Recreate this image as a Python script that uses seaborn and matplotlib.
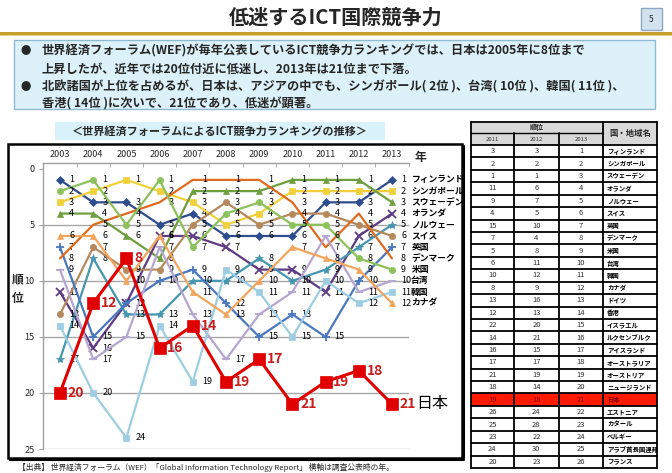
import matplotlib
matplotlib.use("Agg")
import matplotlib.pyplot as plt
from matplotlib.patches import Rectangle
import seaborn as sns
import pandas as pd
import numpy as np

sns.set_style("white")
plt.rcParams['font.family'] = ['Noto Sans CJK JP', 'DejaVu Sans']

# ---------------- data ----------------
years = [2003, 2004, 2005, 2006, 2007, 2008, 2009, 2010, 2011, 2012, 2013]
countries = ['フィンランド', 'シンガポール', 'スウェーデン', 'オランダ', 'ノルウェー', 'スイス',
             '英国', 'デンマーク', '米国', '台湾', '韓国', 'カナダ', '日本']
finland     = [1, 3, 3, 5, 4, 6, 6, 6, 3, 3, 1]
singapore   = [3, 2, 1, 2, 3, 5, 4, 2, 2, 2, 2]
sweden      = [4, 4, 6, 8, 2, 2, 2, 1, 1, 1, 3]
netherlands = [11, 16, 12, 6, 6, 7, 9, 9, 11, 6, 4]
norway      = [17, 8, 13, 13, 10, 10, 8, 10, 9, 7, 5]
switzerland = [13, 7, 9, 9, 5, 3, 5, 4, 4, 5, 6]
uk          = [7, 15, 12, 10, 9, 12, 15, 13, 15, 10, 7]
denmark     = [8, 5, 4, 3, 1, 1, 1, 3, 7, 4, 8]
usa         = [2, 1, 5, 1, 7, 4, 3, 5, 5, 8, 9]
taiwan      = [9, 17, 15, 7, 13, 17, 13, 11, 6, 11, 10]
korea       = [14, 20, 24, 14, 19, 9, 11, 15, 10, 12, 11]
canada      = [6, 6, 10, 6, 11, 13, 10, 7, 8, 9, 12]
japan       = [20, 12, 8, 16, 14, 19, 17, 21, 19, 18, 21]
series = [finland, singapore, sweden, netherlands, norway, switzerland,
          uk, denmark, usa, taiwan, korea, canada, japan]

tbl_names = ['フィンランド', 'シンガポール', 'スウェーデン', 'オランダ', 'ノルウェー', 'スイス', '英国',
             'デンマーク', '米国', '台湾', '韓国', 'カナダ', 'ドイツ', '香港', 'イスラエル',
             'ルクセンブルク', 'アイスランド', 'オーストラリア', 'オーストリア', 'ニュージランド',
             '日本', 'エストニア', 'カタール', 'ベルギー', 'アラブ首長国連邦', 'フランス']
tbl_2011 = [3, 2, 1, 11, 9, 4, 15, 7, 5, 6, 10, 8, 13, 12, 22, 14, 16, 17, 21, 18, 19, 26, 25, 23, 24, 20]
tbl_2012 = [3, 2, 1, 6, 7, 5, 10, 4, 8, 11, 12, 9, 16, 13, 20, 21, 15, 17, 19, 14, 18, 24, 28, 22, 30, 23]
tbl_2013 = list(range(1, 27))
tbl_years = ['2011', '2012', '2013']

# ---------------- styles ----------------
colors = ['#2E4C8E', '#F2D03A', '#6E9F3E', '#5E3B82', '#4596B0', '#B5895C',
          '#4A78C0', '#E06A1E', '#8CC25A', '#B4A6D0', '#9CCDE2', '#F2A55C', '#E00000']
markers = ['D', 's', '^', 'x', '*', 'o', '+', None, 'o', '_', 's', '^', 's']

df = pd.DataFrame([(c, y, r) for c, vals in zip(countries, series) for y, r in zip(years, vals)],
                  columns=['country', 'year', 'rank'])

W, H = 672, 473
fig = plt.figure(figsize=(W / 100, H / 100), dpi=100)
bg = fig.add_axes([0, 0, 1, 1])
bg.set_xlim(0, W)
bg.set_ylim(H, 0)
bg.axis('off')

# title & header decorations
bg.text(336, 17, '低迷するICT国際競争力', ha='center', va='center', fontsize=14.5, fontweight='bold')
bg.add_patch(Rectangle((641, 8), 21, 22, facecolor='#D3E2EF', edgecolor='#8EA7BE', lw=1))
bg.text(651.5, 19, '5', ha='center', va='center', fontsize=6)
bg.add_patch(Rectangle((0, 32), W, 3, facecolor='#C6A02E', edgecolor='none'))
bg.add_patch(Rectangle((0, 35), W, 1.5, facecolor='#E6D28C', edgecolor='none'))

# bullet box
bg.add_patch(Rectangle((14, 40), 641, 69, facecolor='#DDF1FA', edgecolor='#8DBBD0', lw=1))
lines = [(51, True, '世界経済フォーラム(WEF)が毎年公表しているICT競争力ランキングでは、日本は2005年に8位まで'),
         (69, False, '上昇したが、近年では20位付近に低迷し、2013年は21位まで下落。'),
         (87, True, '北欧諸国が上位を占めるが、日本は、アジアの中でも、シンガポール( 2位 )、台湾( 10位 )、韓国( 11位 )、'),
         (104, False, '香港( 14位 )に次いで、21位であり、低迷が顕著。')]
for y, bullet, t in lines:
    if bullet:
        bg.text(26, y, '●', ha='center', va='center', fontsize=7.5)
    bg.text(42, y, t, ha='left', va='center', fontsize=8.8, fontweight='bold')

# chart subtitle
bg.add_patch(Rectangle((55, 122), 330, 18, facecolor='#D9F1FA', edgecolor='none'))
bg.text(220, 131, '＜世界経済フォーラムによるICT競争力ランキングの推移＞', ha='center', va='center',
        fontsize=8, fontweight='bold')

# chart frame
bg.add_patch(Rectangle((8, 144), 454, 314, facecolor='white', edgecolor='black', lw=1.8))
bg.plot([10, 463.5, 463.5], [459.5, 459.5, 146], color='black', lw=1.5)

bg.text(420, 157, '年', ha='center', va='center', fontsize=8.5, fontweight='bold')
bg.text(18, 280, '順', ha='center', va='center', fontsize=8.5, fontweight='bold')
bg.text(18, 298, '位', ha='center', va='center', fontsize=8.5, fontweight='bold')

bg.text(18, 467, '【出典】 世界経済フォーラム（WEF）「Global Information Technology Report」 横軸は調査公表時の年。',
        ha='left', va='center', fontsize=5.6)

# ---------------- table ----------------
tx = [471, 514, 559, 603, 657]
ty0, ty1, ty2, ty3 = 122, 133, 145, 468
rh = (ty3 - ty2) / len(tbl_names)
bg.add_patch(Rectangle((tx[0], ty0), tx[4] - tx[0], ty2 - ty0, facecolor='#D9D9D9', edgecolor='none'))
jrow = tbl_names.index('日本')
bg.add_patch(Rectangle((tx[0], ty2 + jrow * rh), tx[4] - tx[0], rh, facecolor='#FF1A00', edgecolor='none'))
bg.text((tx[0] + tx[3]) / 2, (ty0 + ty1) / 2, '順位', ha='center', va='center', fontsize=5, fontweight='bold')
bg.text((tx[3] + tx[4]) / 2, (ty0 + ty2) / 2, '国・地域名', ha='center', va='center', fontsize=6, fontweight='bold')
for i, yl in enumerate(tbl_years):
    bg.text((tx[i] + tx[i + 1]) / 2, (ty1 + ty2) / 2, yl, ha='center', va='center', fontsize=4.3, color='#333333')
for r in range(len(tbl_names)):
    yc = ty2 + (r + 0.5) * rh
    tc = '#7A0000' if r == jrow else '#333333'
    for i, vals in enumerate([tbl_2011, tbl_2012, tbl_2013]):
        bg.text((tx[i] + tx[i + 1]) / 2, yc, str(vals[r]), ha='center', va='center', fontsize=5.5, color=tc)
    bg.text(tx[3] + 4, yc, tbl_names[r], ha='left', va='center', fontsize=4.6,
            color='#7A0000' if r == jrow else 'black', fontweight='bold')
for xv in [tx[0], tx[3], tx[4]]:
    bg.plot([xv, xv], [ty0, ty3], color='black', lw=1.3)
for xv in [tx[1], tx[2]]:
    bg.plot([xv, xv], [ty1, ty3], color='black', lw=1.3)
bg.plot([tx[0], tx[4]], [ty0, ty0], color='black', lw=1.3)
bg.plot([tx[0], tx[3]], [ty1, ty1], color='black', lw=1.0)
for r in range(len(tbl_names) + 1):
    yv = ty2 + r * rh
    bg.plot([tx[0], tx[4]], [yv, yv], color='black', lw=1.3)

# ---------------- line chart ----------------
left, right, top, bottom = 43.4, 408.6, 163.1, 449
ax = fig.add_axes([left / W, (H - bottom) / H, (right - left) / W, (bottom - top) / H])
ax.set_facecolor('none')

for i in range(13):
    c = countries[i]
    sub = df[df['country'] == c]
    is_jp = (c == '日本')
    sns.lineplot(data=sub, x='year', y='rank', ax=ax, color=colors[i],
                 lw=2.2 if is_jp else 1.6, marker=markers[i],
                 markersize=8 if is_jp else (6 if markers[i] in ('x', '+', '*', '_') else 4.5),
                 markeredgewidth=1.3 if markers[i] in ('x', '+', '_') else 0.5,
                 markeredgecolor=colors[i], zorder=5 if is_jp else 3, legend=False)
    vals = series[i]
    for y, r in zip(years, vals):
        if is_jp:
            ax.annotate(str(r), (y, r), xytext=(5.5, 0), textcoords='offset points',
                        va='center', ha='left', fontsize=10, fontweight='bold', color='#C81E1E',
                        annotation_clip=False)
            if y == 2013:
                ax.annotate('日本', (y, r), xytext=(17.5, 0.5), textcoords='offset points',
                            va='center', ha='left', fontsize=11.5, color='black', annotation_clip=False)
        else:
            ax.annotate(str(r), (y, r), xytext=(6.5, 0), textcoords='offset points',
                        va='center', ha='left', fontsize=6.5, color='black', annotation_clip=False)
            if y == 2013:
                ax.annotate(c, (y, r), xytext=(14 if r < 10 else 13.5, 0), textcoords='offset points',
                            va='center', ha='left', fontsize=6.3, fontweight='bold', color='black',
                            annotation_clip=False)

ax.set_xlim(2002.5, 2013.5)
ax.set_ylim(25, -0.5)
ax.set_yticks([0, 5, 10, 15, 20, 25])
ax.set_xticks(years)
ax.set_xticks(np.arange(2002.5, 2014, 1), minor=True)
ax.xaxis.tick_top()
ax.tick_params(axis='x', which='major', length=0, labelsize=6.5, pad=3)
ax.tick_params(axis='x', which='minor', length=3, direction='in', color='#A0A0A0', top=True, bottom=False)
ax.tick_params(axis='y', which='major', length=3, direction='out', color='#A0A0A0', labelsize=6.5, left=True)
ax.set_xlabel('')
ax.set_ylabel('')
for yv in [5, 10, 15, 20, 25]:
    ax.axhline(yv, color='#A8A8A8', lw=1.0, zorder=1)
for s in ['right', 'bottom']:
    ax.spines[s].set_visible(False)
for s in ['left', 'top']:
    ax.spines[s].set_color('#A0A0A0')
    ax.spines[s].set_linewidth(1.0)

fig.savefig('out.png', dpi=100)
